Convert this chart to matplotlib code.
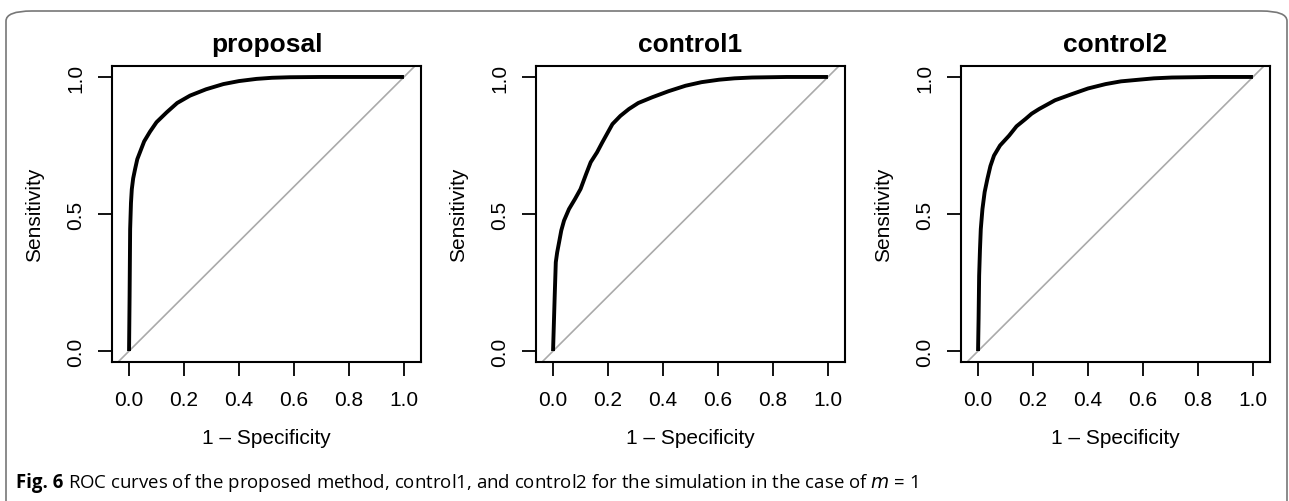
import matplotlib
matplotlib.use('Agg')
import matplotlib.pyplot as plt
from matplotlib.patches import FancyBboxPatch

# ROC curves: (1 - specificity, sensitivity)
titles = ['proposal', 'control1', 'control2']

proposal_fpr = [0.0, 0.002, 0.004, 0.007, 0.010, 0.015, 0.022, 0.030, 0.040, 0.055, 0.076, 0.100,
                0.137, 0.175, 0.222, 0.280, 0.343, 0.400, 0.464, 0.520, 0.585, 0.70, 0.85, 1.0]
proposal_tpr = [0.0, 0.200, 0.445, 0.540, 0.590, 0.630, 0.664, 0.700, 0.726, 0.765, 0.800, 0.835,
                0.871, 0.905, 0.932, 0.955, 0.974, 0.985, 0.993, 0.997, 0.999, 1.0, 1.0, 1.0]

control1_fpr = [0.0, 0.003, 0.006, 0.010, 0.015, 0.022, 0.030, 0.040, 0.058, 0.080, 0.100, 0.120,
                0.137, 0.160, 0.179, 0.195, 0.216, 0.245, 0.276, 0.310, 0.361, 0.420, 0.482, 0.540,
                0.604, 0.660, 0.724, 0.85, 1.0]
control1_tpr = [0.0, 0.100, 0.200, 0.324, 0.360, 0.397, 0.440, 0.476, 0.518, 0.555, 0.591, 0.645,
                0.689, 0.725, 0.761, 0.790, 0.828, 0.858, 0.883, 0.905, 0.926, 0.948, 0.968, 0.981,
                0.990, 0.995, 0.998, 1.0, 1.0]

control2_fpr = [0.0, 0.002, 0.004, 0.007, 0.010, 0.016, 0.024, 0.034, 0.045, 0.058, 0.080, 0.113,
                0.140, 0.173, 0.195, 0.222, 0.280, 0.343, 0.400, 0.464, 0.520, 0.585, 0.640, 0.705,
                0.85, 1.0]
control2_tpr = [0.0, 0.120, 0.275, 0.370, 0.445, 0.518, 0.580, 0.628, 0.675, 0.713, 0.750, 0.786,
                0.820, 0.847, 0.866, 0.883, 0.915, 0.938, 0.958, 0.974, 0.984, 0.990, 0.995, 0.998,
                1.0, 1.0]

curves = [(proposal_fpr, proposal_tpr), (control1_fpr, control1_tpr), (control2_fpr, control2_tpr)]
xticks = [0.0, 0.2, 0.4, 0.6, 0.8, 1.0]
yticks = [0.0, 0.5, 1.0]

plt.rcParams['font.family'] = ['Liberation Sans', 'DejaVu Sans']

fig = plt.figure(figsize=(12.89, 5.02), dpi=100)

# rounded frame around the whole figure
frame = FancyBboxPatch((6 / 1289, -0.1), 1281 / 1289, 1 - 12 / 502 + 0.1,
                       boxstyle='round,pad=0,rounding_size=0.02',
                       transform=fig.transFigure, fill=False,
                       edgecolor='#777777', linewidth=1.2, clip_on=False)
fig.patches.append(frame)

lefts = [112, 536, 961]
for left, title, (fpr, tpr) in zip(lefts, titles, curves):
    ax = fig.add_axes([left / 1289, 1 - 363 / 502, 309 / 1289, 296 / 502])
    ax.set_xlim(-0.062, 1.062)
    ax.set_ylim(-0.04, 1.04)
    ax.axline((0, 0), (1, 1), color='#aaaaaa', linewidth=1.2)
    ax.plot(fpr, tpr, color='black', linewidth=2.8, solid_capstyle='butt', solid_joinstyle='round')
    ax.set_xticks(xticks)
    ax.set_xticklabels([f'{t:.1f}' for t in xticks])
    ax.set_yticks(yticks)
    ax.set_yticklabels([f'{t:.1f}' for t in yticks], rotation=90, va='center')
    ax.tick_params(axis='both', labelsize=15, length=10, width=1.3, direction='out')
    ax.tick_params(axis='x', pad=10)
    ax.tick_params(axis='y', pad=9)
    for sp in ax.spines.values():
        sp.set_linewidth(1.5)
    ax.set_xlabel('1 \u2013 Specificity', fontsize=15, labelpad=14)
    ax.set_ylabel('Sensitivity', fontsize=15, labelpad=16)
    ax.set_title(title, fontsize=19, fontweight='bold', pad=11)

cap_font = ['Open Sans', 'DejaVu Sans']
t1 = fig.text(16 / 1289, 1 - 488 / 502, 'Fig. 6', fontsize=13.4, fontweight='bold',
              family=cap_font, va='baseline')
fig.canvas.draw()
bb = t1.get_window_extent()
fig.text((bb.x1 + 5) / 1289, 1 - 488 / 502,
         'ROC curves of the proposed method, control1, and control2 for the simulation in the case of $m$ = 1',
         fontsize=13.4, family=cap_font, va='baseline')

fig.savefig('out.png', dpi=100)
